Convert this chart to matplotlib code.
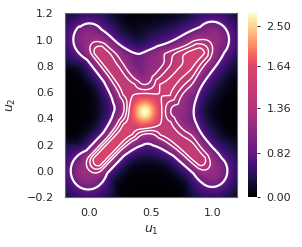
import numpy as np
import matplotlib.pyplot as plt

# ridge of each arm of the X, from the centre out to a corner (LL, UR, UL, LR)
centre = (0.45, 0.45)
arm_tip_u1 = [-0.01, 1.00, 0.00, 1.00]
arm_tip_u2 = [0.00, 1.00, 1.00, 0.00]

# height of each arm at these fractions of its length
arm_knots = [0.0, 0.3, 0.55, 0.85, 1.0]
arm_peak = [
    [0.80, 1.52, 1.60, 1.60, 1.22],  # lower left
    [0.80, 1.52, 1.52, 1.48, 1.18],  # upper right
    [0.80, 1.42, 1.45, 1.45, 1.15],  # upper left
    [0.80, 1.42, 1.45, 1.45, 1.15],  # lower right
]
# width on the left / right hand side of each arm (looking from the centre)
arm_width_left = [
    [0.14, 0.135, 0.105, 0.105, 0.16],
    [0.14, 0.21, 0.23, 0.17, 0.16],
    [0.14, 0.135, 0.105, 0.105, 0.16],
    [0.14, 0.17, 0.16, 0.13, 0.15],
]
arm_width_right = [
    [0.14, 0.135, 0.105, 0.105, 0.16],
    [0.14, 0.20, 0.17, 0.15, 0.16],
    [0.14, 0.16, 0.17, 0.14, 0.15],
    [0.14, 0.135, 0.105, 0.105, 0.15],
]

# broad body in the middle plus a sharp peak on top of it
body_peak, body_width = 1.5, 0.18
centre_peak, centre_width = 1.0, 0.05

# shallow patches that fill the top and right gaps between the arms
band_u1 = [0.55, 0.47, 0.85, 0.78]
band_u2 = [0.90, 0.84, 0.47, 0.45]
band_w1 = [0.22, 0.06, 0.04, 0.05]
band_w2 = [0.04, 0.05, 0.18, 0.06]
band_peak = [0.20, 0.22, 0.15, 0.15]

cbar_ticks = [0.00, 0.82, 1.36, 1.64, 2.50]
cbar_pos = [0.0, 0.237, 0.485, 0.714, 0.93]
line_levels = [0.82, 1.25, 1.38, 1.50]
line_widths = [1.6, 1.0, 1.0, 1.0]

u1 = np.linspace(-0.2, 1.2, 281)
u2 = np.linspace(-0.2, 1.2, 281)
U1, U2 = np.meshgrid(u1, u2)
r2 = (U1 - centre[0]) ** 2 + (U2 - centre[1]) ** 2

p = 3.0
acc = (body_peak * np.exp(-r2 / (2 * body_width ** 2))) ** p
for k in range(len(arm_tip_u1)):
    vx, vy = arm_tip_u1[k] - centre[0], arm_tip_u2[k] - centre[1]
    rx, ry = U1 - centre[0], U2 - centre[1]
    t = np.clip((rx * vx + ry * vy) / (vx * vx + vy * vy), 0, 1)
    d = np.hypot(rx - t * vx, ry - t * vy)
    side = vx * ry - vy * rx
    amp = np.interp(t, arm_knots, arm_peak[k])
    wid = np.where(side > 0, np.interp(t, arm_knots, arm_width_left[k]),
                   np.interp(t, arm_knots, arm_width_right[k]))
    acc += (amp * np.exp(-d ** 2 / (2 * wid ** 2))) ** p
dens = acc ** (1 / p) + centre_peak * np.exp(-r2 / (2 * centre_width ** 2))
for k in range(len(band_u1)):
    dens += band_peak[k] * np.exp(-(U1 - band_u1[k]) ** 2 / (2 * band_w1[k] ** 2)
                                  - (U2 - band_u2[k]) ** 2 / (2 * band_w2[k] ** 2))

# colour levels spaced so the colourbar ticks land where they do in the picture
levels = np.interp(np.linspace(0, 1, 150),
                   cbar_pos + [1.0], cbar_ticks + [dens.max() * 1.001])

fig = plt.figure(figsize=(3.02, 2.47), dpi=100)
ax = fig.add_axes([0.215, 0.2024, 0.569, 0.7436])
cax = fig.add_axes([0.822, 0.2024, 0.03, 0.7436])

cf = ax.contourf(U1, U2, dens, levels=levels, cmap="magma")
ax.contour(U1, U2, dens, levels=line_levels, colors="white", linewidths=line_widths)

ax.set_xlim(-0.2, 1.2)
ax.set_ylim(-0.2, 1.2)
ax.set_xticks([0.0, 0.5, 1.0])
ax.set_yticks(np.round(np.arange(-0.2, 1.21, 0.2), 1))
ax.xaxis.set_major_formatter("{x:.1f}")
ax.yaxis.set_major_formatter("{x:.1f}")
ax.tick_params(length=0, pad=8, labelsize=8, colors="0.15")
for s in ax.spines.values():
    s.set_color("0.4")
    s.set_linewidth(0.8)
ax.set_xlabel("$u_1$", fontsize=9, color="0.15", labelpad=4)
ax.set_ylabel("$u_2$", fontsize=9, color="0.15", labelpad=6)

cb = fig.colorbar(cf, cax=cax, ticks=cbar_ticks, format="%.2f")
cb.outline.set_visible(False)
cax.tick_params(length=2.5, width=0.7, pad=4, labelsize=8, colors="0.15")

fig.savefig("out.png", dpi=100)
